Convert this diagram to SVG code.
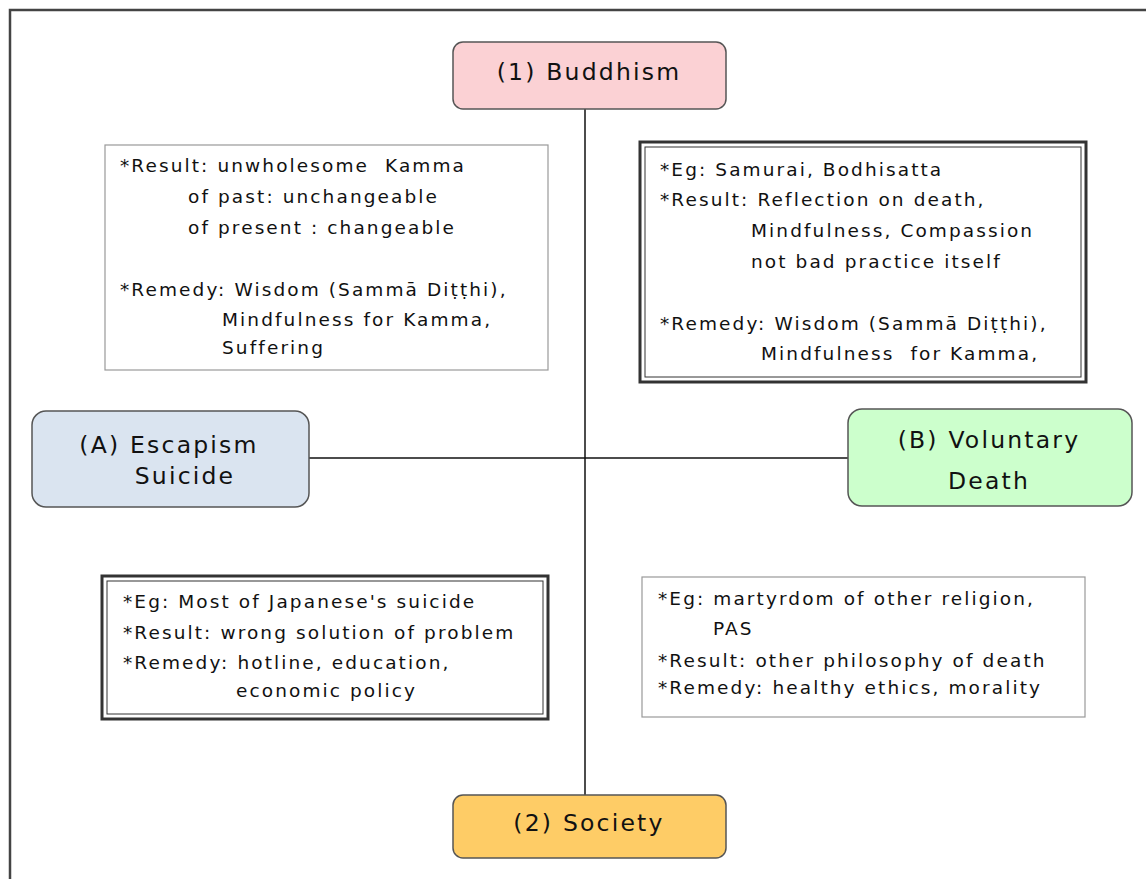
<svg xmlns="http://www.w3.org/2000/svg" width="1146" height="879" viewBox="0 0 1146 879">
<style>
.t{font-family:"DejaVu Sans","Liberation Sans",sans-serif;font-size:18.5px;fill:#111;letter-spacing:2.1px;white-space:pre}
.n{font-family:"DejaVu Sans","Liberation Sans",sans-serif;font-size:23.5px;fill:#111;letter-spacing:2.2px;text-anchor:middle}
.node{stroke:#555;stroke-width:1.5}
.single{fill:#fff;stroke:#999;stroke-width:1.2}
.dout{fill:#fff;stroke:#333;stroke-width:3}
.din{fill:none;stroke:#333;stroke-width:1}
.c{stroke:#111;stroke-width:1.5;fill:none}
</style>
<rect width="1146" height="879" fill="#fff"/>
<path d="M10 879 V10 H1146" fill="none" stroke="#444" stroke-width="2.5"/>
<g id="connectors">
<line class="c" x1="585" y1="109" x2="585" y2="795"/>
<line class="c" x1="309" y1="458" x2="848" y2="458"/>
</g>
<g id="buddhism">
<rect class="node" x="453" y="42" width="273" height="67" rx="10" fill="#fbd1d4"/>
<text class="n" x="589" y="80">(1) Buddhism</text>
</g>
<g id="escapism">
<rect class="node" x="32" y="411" width="277" height="96" rx="14" fill="#dae4f0"/>
<text class="n" x="169" y="453">(A) Escapism</text>
<text class="n" x="185" y="484">Suicide</text>
</g>
<g id="voluntary">
<rect class="node" x="848" y="409" width="284" height="97" rx="14" fill="#ccffcc"/>
<text class="n" x="989" y="448">(B) Voluntary</text>
<text class="n" x="989" y="489">Death</text>
</g>
<g id="society">
<rect class="node" x="453" y="795" width="273" height="63" rx="10" fill="#fecc66"/>
<text class="n" x="589" y="831">(2) Society</text>
</g>
<g id="box-tl">
<rect class="single" x="105" y="145" width="443" height="225"/>
<text class="t" x="120" y="172">*Result: unwholesome  Kamma</text>
<text class="t" x="188" y="203">of past: unchangeable</text>
<text class="t" x="188" y="234">of present : changeable</text>
<text class="t" x="120" y="296">*Remedy: Wisdom (Sammā Diṭṭhi),</text>
<text class="t" x="222" y="326">Mindfulness for Kamma,</text>
<text class="t" x="222" y="354">Suffering</text>
</g>
<g id="box-tr">
<rect class="dout" x="640" y="142" width="446" height="240"/>
<rect class="din" x="645" y="147" width="436" height="230"/>
<text class="t" x="660" y="176">*Eg: Samurai, Bodhisatta</text>
<text class="t" x="660" y="206">*Result: Reflection on death,</text>
<text class="t" x="751" y="237">Mindfulness, Compassion</text>
<text class="t" x="751" y="268">not bad practice itself</text>
<text class="t" x="660" y="330">*Remedy: Wisdom (Sammā Diṭṭhi),</text>
<text class="t" x="761" y="360">Mindfulness  for Kamma,</text>
</g>
<g id="box-bl">
<rect class="dout" x="102" y="576" width="446" height="143"/>
<rect class="din" x="107" y="581" width="436" height="133"/>
<text class="t" x="123" y="608">*Eg: Most of Japanese's suicide</text>
<text class="t" x="123" y="639">*Result: wrong solution of problem</text>
<text class="t" x="123" y="669">*Remedy: hotline, education,</text>
<text class="t" x="236" y="697">economic policy</text>
</g>
<g id="box-br">
<rect class="single" x="642" y="577" width="443" height="140"/>
<text class="t" x="658" y="605">*Eg: martyrdom of other religion,</text>
<text class="t" x="713" y="635">PAS</text>
<text class="t" x="658" y="667">*Result: other philosophy of death</text>
<text class="t" x="658" y="694">*Remedy: healthy ethics, morality</text>
</g>
</svg>
